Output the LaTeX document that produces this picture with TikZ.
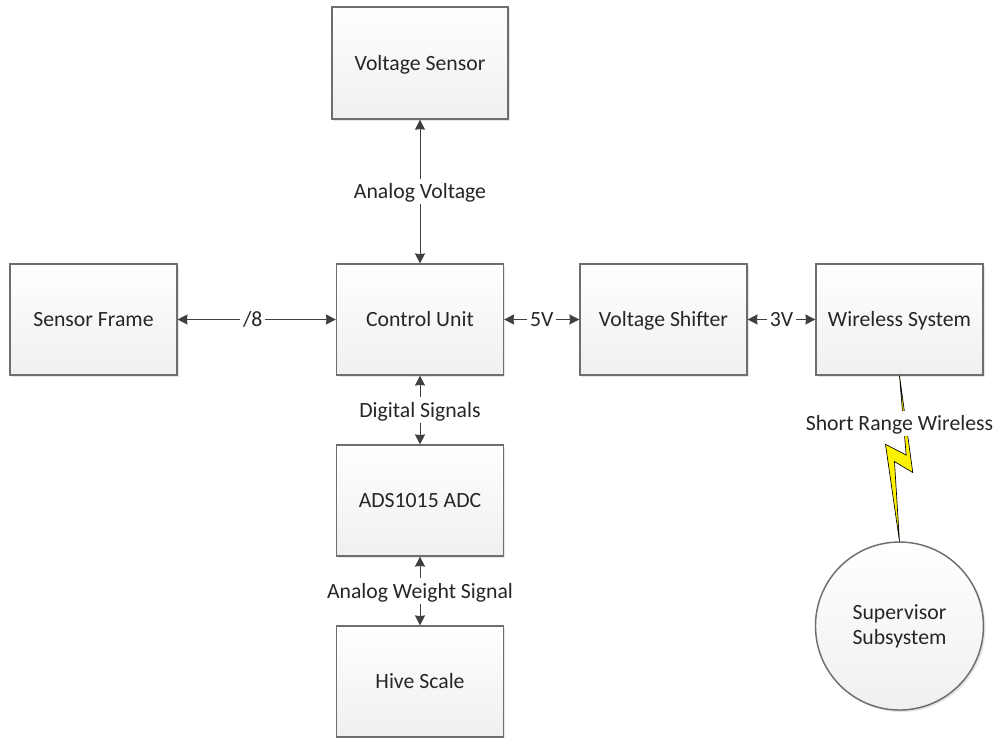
\documentclass[tikz,border=0pt]{standalone}
\usepackage{fontspec}
\setmainfont{Carlito}
\usetikzlibrary{arrows.meta, positioning, shadows}
\definecolor{boxline}{HTML}{6E6E6E}
\definecolor{wireline}{HTML}{404040}
\definecolor{labeltext}{HTML}{262626}

\begin{document}
\begin{tikzpicture}[x=0.75pt, y=-0.75pt, on grid, font=\fontsize{16.3}{19}\selectfont, text=labeltext,
    blockbox/.style={rectangle, draw=boxline, line width=1.1pt, top color=white, bottom color=black!6,
        minimum width=125pt, minimum height=83pt, text height=13pt, text depth=2pt,
        drop shadow={shadow xshift=1.5pt, shadow yshift=-1.5pt, fill=black!10, opacity=1}},
    link/.style={{Stealth[length=7.5pt, width=7.5pt, inset=0.5pt]}-{Stealth[length=7.5pt, width=7.5pt, inset=0.5pt]}, draw=wireline, line width=0.75pt},
    linktext/.style={fill=white, inner sep=2pt, text height=13pt, text depth=2pt, text=labeltext}]

    \useasboundingbox (0,0) rectangle (995,738);

    % Nodes for the main row
    \node (control) [blockbox] at (420,319.5) {Control Unit};
    \node (frame) [blockbox, left=244.9pt of control] {Sensor Frame};
    \node (shifter) [blockbox, right=182.6pt of control] {Voltage Shifter};
    \node (wireless) [blockbox, right=177pt of shifter] {Wireless System};

    % Nodes for the column through the control unit
    \node (vsensor) [blockbox, minimum width=132pt, minimum height=84pt, above=192.4pt of control] {Voltage Sensor};
    \node (adc) [blockbox, below=135.75pt of control] {ADS1015 ADC};
    \node (scale) [blockbox, below=135.75pt of adc] {Hive Scale};

    % Supervisor below the wireless system
    \node (supervisor) [circle, draw=boxline, line width=1.1pt, top color=white, bottom color=black!6,
        minimum size=126pt, align=center, below=229.9pt of wireless,
        drop shadow={shadow xshift=1.5pt, shadow yshift=-1.5pt, fill=black!10, opacity=1}] {Supervisor\\Subsystem};

    % Edges with their labels
    \draw[link] (vsensor) to node[linktext] {Analog Voltage} (control);
    \draw[link] (frame) to node[linktext, pos=0.475] {/8} (control);
    \draw[link] (control) to node[linktext] {5V} (shifter);
    \draw[link] (shifter) to node[linktext] {3V} (wireless);
    \draw[link] (control) to node[linktext] {Digital Signals} (adc);
    \draw[link] (adc) to node[linktext] {Analog Weight Signal} (scale);

    % Wireless bolt
    \draw[draw=black, line width=0.5pt, fill=yellow, line join=miter]
        (wireless.south) -- ++(13.3,97) -- ++(-18.3,-11) -- (supervisor.north)
        -- ++(-14,-97) -- ++(20.7,10.7) -- cycle;
    \node (range) [linktext, below=26.25pt of wireless.south] {Short Range Wireless};
\end{tikzpicture}
\end{document}
